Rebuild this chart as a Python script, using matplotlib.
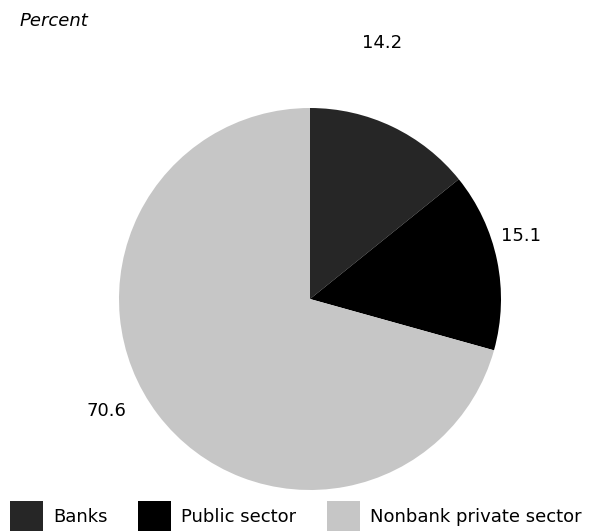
import matplotlib.pyplot as plt

# Shares of the total, percent
sectors = ['Banks', 'Public sector', 'Nonbank private sector']
shares = [14.2, 15.1, 70.6]
colors = ['#262626', '#000000', '#c6c6c6']

W, H = 595, 532
fig = plt.figure(figsize=(W / 100, H / 100), dpi=100)
ax = fig.add_axes([0, 0, 1, 1])
ax.axis('off')

wedges, _ = ax.pie(shares, colors=colors, startangle=90, counterclock=False,
                   center=(310, H - 299), radius=191,
                   wedgeprops=dict(linewidth=0))
ax.set_xlim(0, W)
ax.set_ylim(0, H)
ax.set_aspect('equal')

# Value labels placed around the pie
label_pos = [(382, H - 43), (521, H - 236), (106, H - 411)]
for val, (x, y) in zip(shares, label_pos):
    ax.text(x, y, f"{val:.1f}", fontsize=13, ha='center', va='center')

ax.text(20, H - 21, 'Percent', fontsize=13, style='italic', ha='left', va='center')

leg = ax.legend(wedges, sectors, loc='center left',
                bbox_to_anchor=(10 / W, 1 - 516 / H),
                ncol=3, frameon=False, fontsize=13, borderpad=0,
                handlelength=1.83, handleheight=2.2, handletextpad=0.55,
                columnspacing=1.7, borderaxespad=0)

fig.savefig('out.png', dpi=100)
